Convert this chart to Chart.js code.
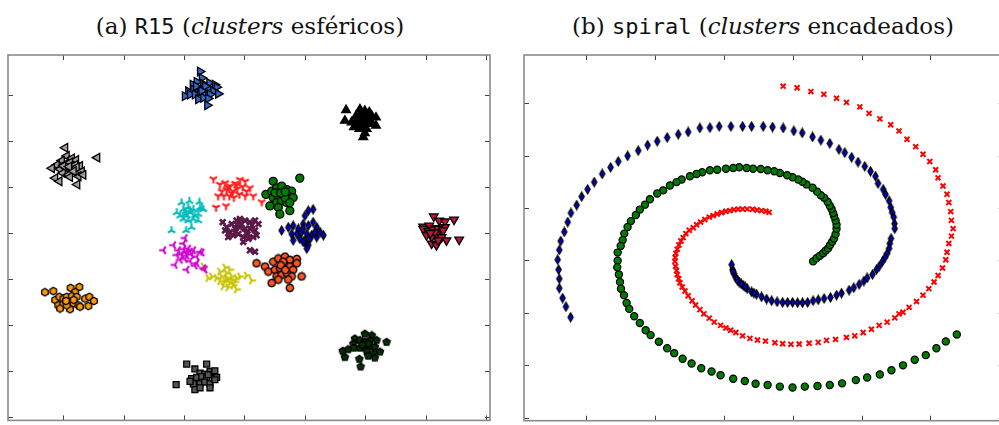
<!DOCTYPE html>
<html>
<head>
<meta charset="utf-8">
<script src="https://cdn.jsdelivr.net/npm/chart.js@4.4.1/dist/chart.umd.min.js"></script>
<style>
  html, body { margin: 0; padding: 0; background: #fff; overflow: hidden; }
  body { width: 999px; height: 425px; position: relative; }
  .title { position: absolute; top: 12px; width: 500px; text-align: center;
           font-family: "DejaVu Serif", "Liberation Serif", serif; font-size: 23px;
           line-height: 28px; color: #111; white-space: nowrap; }
  .title .tt { font-family: "DejaVu Sans Mono", "Liberation Mono", monospace; font-size: 22px; }
  #ta { left: 0; }
  #tb { left: 513px; }
  canvas { position: absolute; top: 45px; }
  #r15 { left: 0; }
  #spiral { left: 500px; }
</style>
</head>
<body>
<div class="title" id="ta">(a) <span class="tt">R15</span> (<i>clusters</i> esféricos)</div>
<div class="title" id="tb">(b) <span class="tt">spiral</span> (<i>clusters</i> encadeados)</div>
<canvas id="r15" width="500" height="382"></canvas>
<canvas id="spiral" width="510" height="382"></canvas>
<script>
// ---- R15 clusters, [x, y] ----
var r15BlueRight = [[8.53,17.04],[8.59,16.76],[8.42,16.59],[8.29,16.47],[8.64,16.50],[8.84,16.54],[9.02,16.47],[9.08,16.36],[8.14,16.18],[8.31,16.26],[8.47,16.33],[8.64,16.26],[8.80,16.33],[8.97,16.18],[8.03,15.97],[8.20,16.04],[8.36,16.04],[8.53,16.12],[8.69,16.04],[8.86,16.04],[9.13,16.07],[8.47,15.83],[8.64,15.90],[8.80,15.87],[8.77,15.57],[8.40,16.40],[8.70,16.40],[8.58,16.20]];
var r15BlackUp = [[13.36,15.36],[13.32,14.90],[13.54,14.83],[13.69,15.11],[13.82,15.40],[13.98,15.33],[14.13,15.26],[14.21,15.11],[14.35,15.04],[13.73,14.97],[13.87,15.11],[14.04,15.01],[14.17,14.90],[13.82,14.76],[13.98,14.79],[14.13,14.76],[13.62,14.62],[13.80,14.54],[14.35,14.69],[14.04,14.54],[13.98,14.36],[13.93,14.19],[13.85,15.22],[14.06,15.16],[13.71,14.76],[13.95,14.95],[14.10,14.88],[13.90,14.65]];
var r15GrayLeft = [[4.07,13.72],[4.12,13.36],[4.29,13.26],[4.43,13.19],[3.96,13.16],[3.79,12.97],[4.07,13.01],[4.23,13.08],[4.40,12.97],[4.56,12.93],[3.63,12.83],[3.90,12.79],[4.12,12.83],[4.29,12.76],[4.45,12.87],[4.62,12.69],[3.99,12.62],[4.18,12.54],[4.51,12.48],[4.67,12.54],[3.74,12.40],[3.88,12.26],[4.23,12.45],[4.47,12.12],[5.13,13.29],[4.01,12.93],[4.20,12.90],[4.35,12.70]];
var r15RedTri = [[8.97,12.36],[9.19,12.12],[9.36,12.19],[9.52,12.05],[9.69,12.16],[9.85,12.33],[10.02,12.26],[10.18,11.97],[9.25,11.83],[9.41,11.90],[9.61,11.83],[9.76,11.93],[9.94,12.02],[10.07,11.83],[9.13,11.62],[9.32,11.62],[9.50,11.62],[9.65,11.55],[9.83,11.69],[10.02,11.62],[10.29,11.62],[9.06,11.12],[9.39,11.19],[10.57,11.36],[9.58,11.73],[9.75,12.10],[9.45,12.00]];
var r15GreenDot = [[10.95,12.26],[11.83,12.40],[10.71,11.69],[10.90,11.83],[11.06,11.97],[11.23,12.05],[11.40,11.90],[11.56,11.83],[10.95,11.55],[11.12,11.62],[11.28,11.69],[11.45,11.62],[11.61,11.55],[11.06,11.33],[11.23,11.40],[11.40,11.33],[10.84,11.19],[11.12,11.12],[11.50,10.98],[11.17,10.83],[11.34,11.55],[11.01,11.76],[11.50,11.33],[11.20,11.75],[11.35,11.80]];
var r15CyanTri = [[7.92,11.33],[8.18,11.40],[8.51,11.36],[7.76,10.90],[7.98,11.04],[8.14,11.12],[8.31,11.04],[8.53,11.12],[8.64,11.04],[7.87,10.76],[8.03,10.83],[8.20,10.90],[8.36,10.76],[8.47,10.83],[7.98,10.62],[8.14,10.55],[8.31,10.62],[8.47,10.55],[8.25,10.26],[8.07,10.12],[7.59,10.12],[8.59,11.07],[8.09,10.76],[8.20,11.00],[8.05,10.95]];
var r15PurpleX = [[9.28,10.48],[9.41,10.26],[9.58,10.40],[9.74,10.55],[9.85,10.62],[10.02,10.55],[10.18,10.48],[10.35,10.55],[10.46,10.40],[9.36,10.12],[9.52,10.05],[9.69,10.19],[9.85,10.26],[10.02,10.19],[10.18,10.19],[10.35,10.12],[10.40,9.91],[9.46,9.83],[9.63,9.91],[9.80,9.97],[9.96,9.83],[10.13,9.76],[10.29,9.83],[9.96,9.62],[10.18,9.26],[10.35,9.19],[9.76,10.36],[10.07,10.02],[9.90,10.40],[10.25,10.35],[10.10,9.95],[9.70,10.05]];
var r15BlueDiamond = [[12.11,10.98],[12.27,11.04],[12.00,10.76],[11.23,10.12],[11.45,10.26],[11.61,10.33],[11.78,10.19],[11.94,10.40],[12.11,10.33],[12.27,10.48],[12.39,10.26],[12.50,10.05],[12.61,9.91],[11.56,9.97],[11.73,9.97],[11.89,10.05],[12.06,9.97],[12.22,9.91],[12.39,9.83],[11.61,9.69],[11.83,9.76],[12.00,9.69],[12.17,9.76],[12.06,9.48],[11.94,10.19],[12.33,10.05],[11.94,9.62],[12.11,9.48],[12.06,9.33]];
var r15CrimsonDown = [[16.26,10.73],[16.44,10.55],[16.63,10.51],[16.93,10.59],[15.91,10.29],[16.11,10.33],[16.30,10.22],[16.46,10.19],[16.63,10.26],[15.91,10.19],[16.08,10.09],[16.24,10.15],[16.41,10.19],[16.57,10.12],[16.02,9.91],[16.19,9.83],[16.35,9.95],[16.52,9.83],[16.68,9.69],[16.19,9.55],[16.35,9.48],[16.41,9.69],[17.10,9.72],[16.30,10.05],[16.15,10.00]];
var r15MagentaTri = [[8.03,9.79],[7.98,9.55],[7.65,9.48],[7.32,9.26],[7.81,9.26],[7.98,9.31],[8.14,9.33],[8.31,9.26],[8.53,9.19],[8.59,9.16],[7.76,9.05],[7.92,9.07],[8.09,9.02],[8.25,9.07],[8.42,8.98],[7.87,8.84],[8.03,8.88],[8.20,8.79],[8.42,8.69],[7.70,8.62],[8.09,8.41],[8.36,8.59],[8.64,8.48],[8.69,8.41],[8.05,9.15],[8.20,9.20]];
var r15OrangeRed = [[10.40,8.69],[10.68,8.55],[10.95,8.76],[11.12,8.90],[11.34,8.98],[11.50,8.84],[11.73,8.88],[10.79,8.33],[11.01,8.41],[11.17,8.48],[11.34,8.62],[11.50,8.55],[11.61,8.41],[11.06,8.12],[11.23,8.19],[11.40,8.26],[11.56,8.12],[11.45,7.98],[11.12,7.98],[10.90,7.83],[11.50,7.62],[11.89,8.12],[11.28,8.76],[11.73,8.69],[11.20,8.60],[11.35,8.40]];
var r15YellowTri = [[9.36,8.51],[9.52,8.41],[9.41,8.26],[9.19,8.33],[8.92,8.12],[9.08,8.05],[9.25,8.12],[9.41,8.05],[9.58,8.12],[9.74,8.05],[9.85,8.12],[10.07,8.16],[10.24,7.94],[9.19,7.91],[9.36,7.91],[9.52,7.83],[9.69,7.88],[9.30,7.69],[9.46,7.65],[9.63,7.73],[9.74,7.55],[8.80,8.05],[8.64,8.55],[9.45,8.00],[9.60,7.95]];
var r15Orange = [[3.40,7.43],[3.68,7.48],[4.25,7.62],[4.54,7.66],[4.40,7.43],[3.74,7.09],[3.88,7.23],[4.01,7.15],[4.12,7.23],[4.29,7.26],[4.45,7.23],[4.73,7.15],[4.87,7.23],[5.02,7.05],[3.84,6.86],[4.01,6.91],[4.18,7.01],[4.34,6.95],[4.51,6.86],[3.90,6.72],[4.23,6.69],[4.56,6.80],[4.84,6.83],[4.12,6.86],[4.10,7.05],[4.35,7.10]];
var r15DarkGreen = [[13.98,5.62],[14.21,5.55],[13.65,5.41],[13.60,5.19],[13.82,5.34],[13.98,5.26],[14.15,5.34],[14.37,5.34],[14.70,5.26],[13.25,4.87],[13.43,4.94],[13.62,5.01],[13.82,5.01],[13.98,5.05],[14.15,5.09],[14.31,5.05],[14.48,4.84],[13.32,4.60],[14.04,4.87],[14.26,4.77],[14.31,4.58],[13.80,4.52],[13.84,4.19],[14.09,4.66],[14.10,5.20],[13.90,5.15]];
var r15GraySquare = [[8.09,4.30],[8.75,4.30],[8.36,4.09],[8.53,3.91],[8.69,3.87],[8.86,3.98],[9.02,4.01],[8.25,3.67],[8.42,3.72],[8.59,3.76],[8.75,3.70],[9.00,3.67],[9.08,3.72],[8.31,3.44],[8.53,3.44],[8.69,3.52],[8.86,3.44],[9.02,3.62],[8.36,3.19],[8.53,3.27],[8.86,3.27],[7.74,3.41],[8.20,3.55],[8.80,3.84]];

// ---- spiral arms ----
var spiralBlue = [[3.91,9.59],[3.57,10.59],[3.33,11.41],[3.09,12.35],[3.09,13.25],[3.04,14.13],[2.97,15.07],[3.09,16.0],[3.19,16.85],[3.45,17.72],[3.70,18.66],[3.93,19.53],[4.35,20.28],[4.71,21.09],[5.14,21.78],[5.62,22.47],[6.20,23.25],[6.81,23.88],[7.36,24.44],[8.04,24.97],[8.81,25.47],[9.49,26.0],[10.19,26.37],[10.91,26.72],[11.71,27.03],[12.43,27.25],[13.28,27.63],[14.01,27.66],[14.68,27.78],[15.53,27.78],[16.38,27.78],[17.03,27.78],[17.87,27.78],[18.55,27.72],[19.32,27.63],[20.09,27.35],[20.70,27.16],[21.45,26.78],[22.05,26.47],[22.70,26.16],[23.36,25.59],[23.79,25.28],[24.28,24.84],[24.75,24.38],[25.24,23.97],[25.65,23.50],[26.01,23.03],[26.20,22.34],[26.57,21.78],[26.74,21.31],[27.0,20.69],[27.12,20.06],[27.22,19.59],[27.34,19.13],[27.39,18.50],[27.41,18.03],[27.14,17.09],[27.05,16.62],[27.0,16.15],[26.86,15.68],[26.71,15.31],[26.52,14.91],[26.28,14.44],[26.09,14.13],[25.80,13.66],[25.41,13.34],[25.17,13.03],[24.83,12.72],[24.44,12.40],[24.10,12.16],[23.55,11.88],[23.19,11.69],[22.75,11.47],[22.29,11.37],[21.86,11.25],[21.49,11.16],[21.09,11.0],[20.72,10.97],[20.36,10.97],[20.0,11.0],[19.64,11.0],[19.28,11.0],[18.88,11.06],[18.48,11.16],[18.12,11.32],[17.75,11.53],[17.39,11.78],[17.03,12.0],[16.71,12.31],[16.42,12.63],[16.13,12.94],[15.89,13.34],[15.75,13.75],[15.65,14.13],[15.58,14.60],[15.69,13.94],[16.0,13.13],[16.28,12.77],[16.57,12.47],[17.20,11.89]];
var spiralGreen = [[21.49,14.91],[21.74,15.22],[21.98,15.44],[22.22,15.68],[22.41,15.94],[22.58,16.15],[22.72,16.47],[22.87,16.78],[23.01,17.09],[23.12,17.50],[23.19,18.03],[23.19,18.40],[23.12,18.82],[23.01,19.22],[22.94,19.53],[22.83,19.90],[22.70,20.22],[22.54,20.60],[22.29,20.97],[22.05,21.22],[21.78,21.56],[21.45,21.94],[21.01,22.25],[20.72,22.5],[20.41,22.72],[20.0,22.94],[19.61,23.13],[19.08,23.34],[18.67,23.50],[18.19,23.60],[17.70,23.72],[17.14,23.75],[16.67,23.81],[16.13,23.88],[15.70,23.81],[15.17,23.75],[14.54,23.65],[14.01,23.60],[13.45,23.41],[13.04,23.25],[12.56,23.03],[11.96,22.72],[11.59,22.47],[11.11,22.15],[10.62,21.68],[10.19,21.38],[9.66,20.84],[9.30,20.32],[8.93,19.85],[8.64,19.34],[8.28,18.75],[8.04,18.19],[7.80,17.56],[7.68,16.94],[7.54,16.38],[7.32,15.75],[7.32,14.97],[7.29,14.34],[7.41,13.66],[7.49,12.94],[7.56,12.31],[7.78,11.69],[7.97,10.94],[8.16,10.38],[8.52,9.68],[8.93,9.03],[9.35,8.34],[9.71,7.88],[10.31,7.25],[10.91,6.63],[11.42,6.16],[12.03,5.63],[12.68,5.18],[13.38,4.72],[14.13,4.41],[14.78,4.06],[15.70,3.72],[16.54,3.50],[17.32,3.25],[18.19,3.12],[19.08,2.97],[20.0,2.88],[20.89,2.97],[21.81,3.03],[22.70,3.12],[23.59,3.28],[24.59,3.59],[25.41,3.84],[26.33,4.13],[27.17,4.53],[28.01,5.0],[28.86,5.53],[29.66,5.97],[30.43,6.63],[31.11,7.28],[31.91,7.94]];
var spiralRed = [[18.30,19.59],[18.07,19.69],[17.75,19.75],[17.43,19.81],[17.10,19.88],[16.71,19.90],[16.38,19.90],[16.06,19.88],[15.75,19.85],[15.46,19.75],[15.17,19.69],[14.86,19.57],[14.54,19.43],[14.25,19.28],[13.96,19.13],[13.64,18.91],[13.33,18.66],[13.04,18.40],[12.80,18.12],[12.51,17.88],[12.27,17.56],[12.07,17.18],[11.91,16.85],[11.76,16.47],[11.64,16.06],[11.54,15.68],[11.49,15.28],[11.47,14.91],[11.52,14.44],[11.59,14.03],[11.64,13.66],[11.74,13.25],[11.83,12.87],[12.0,12.47],[12.20,12.09],[12.43,11.63],[12.72,11.16],[12.97,10.75],[13.28,10.31],[13.57,9.91],[13.96,9.50],[14.32,9.12],[14.78,8.81],[15.17,8.56],[15.51,8.34],[15.89,8.13],[16.38,7.81],[16.91,7.57],[17.46,7.41],[18.04,7.31],[18.72,7.15],[19.28,7.06],[19.88,7.0],[20.48,7.03],[21.20,7.10],[21.86,7.19],[22.46,7.38],[23.12,7.47],[23.91,7.66],[24.51,7.81],[25.12,8.13],[25.72,8.44],[26.28,8.81],[26.86,9.12],[27.41,9.53],[27.72,9.91],[28.01,10.06],[28.45,10.53],[28.99,11.09],[29.46,11.69],[29.88,12.31],[30.26,12.94],[30.55,13.57],[30.87,14.28],[31.11,15.07],[31.20,15.78],[31.33,16.62],[31.52,17.32],[31.64,18.03],[31.52,18.82],[31.47,19.66],[31.33,20.53],[31.20,21.31],[30.91,22.10],[30.55,22.88],[30.38,23.65],[29.95,24.44],[29.46,25.13],[28.93,25.85],[28.30,26.56],[27.72,27.35],[27.12,27.94],[26.33,28.5],[25.55,29.03],[24.88,29.65],[23.91,30.07],[23.19,30.47],[22.27,30.84],[21.33,31.10],[20.33,31.47],[19.32,31.62]];

// ---- tick positions (no labels are shown) ----
var r15XTicks = [4, 6, 8, 10, 12, 14, 16, 18];
var r15YTicks = [2, 4, 6, 8, 10, 12, 14, 16];
var spiralXTicks = [5, 10, 15, 20, 25, 30, 35];
var spiralYTicks = [0, 5, 10, 15, 20, 25, 30];

function toXY(list) {
    return list.map(function (p) { return { x: p[0], y: p[1] }; });
}

// small canvas markers for the matplotlib-like symbols Chart.js lacks
function makeMarker(kind, color, size) {
    var c = document.createElement('canvas');
    c.width = size;
    c.height = size;
    var g = c.getContext('2d');
    g.translate(size / 2, size / 2);
    var r = size / 2 - 1.2;
    var arms = { triDown: [90, 210, 330], triUp: [270, 30, 150], triLeft: [180, 300, 60], triRight: [0, 120, 240] };
    if (arms[kind]) {
        g.strokeStyle = color;
        g.lineWidth = 2.1;
        g.beginPath();
        arms[kind].forEach(function (a) {
            var t = a * Math.PI / 180;
            g.moveTo(0, 0);
            g.lineTo(r * Math.cos(t), r * Math.sin(t));
        });
        g.stroke();
        return c;
    }
    g.beginPath();
    if (kind === 'thinDiamond') {
        g.moveTo(0, -r); g.lineTo(r * 0.6, 0); g.lineTo(0, r); g.lineTo(-r * 0.6, 0);
    } else {
        var n = kind === 'pentagon' ? 5 : kind === 'hexagon' ? 6 : 8;
        for (var i = 0; i < n; i++) {
            var t = -Math.PI / 2 + i * 2 * Math.PI / n;
            if (i === 0) g.moveTo(r * Math.cos(t), r * Math.sin(t));
            else g.lineTo(r * Math.cos(t), r * Math.sin(t));
        }
    }
    g.closePath();
    g.fillStyle = color;
    g.fill();
    g.strokeStyle = '#000';
    g.lineWidth = 1.3;
    g.stroke();
    return c;
}

var framePlugin = {
    id: 'frame',
    afterDatasetsDraw: function (chart, args, opts) {
        var ctx = chart.ctx, a = chart.chartArea, sx = chart.scales.x, sy = chart.scales.y;
        ctx.save();
        ctx.strokeStyle = '#444';
        ctx.lineWidth = 1;
        ctx.beginPath();
        opts.xTicks.forEach(function (v) {
            var p = Math.round(sx.getPixelForValue(v)) + 0.5;
            ctx.moveTo(p, a.top); ctx.lineTo(p, a.top + 5);
            ctx.moveTo(p, a.bottom); ctx.lineTo(p, a.bottom - 5);
        });
        opts.yTicks.forEach(function (v) {
            var p = Math.round(sy.getPixelForValue(v)) + 0.5;
            ctx.moveTo(a.left, p); ctx.lineTo(a.left + 5, p);
            ctx.moveTo(a.right, p); ctx.lineTo(a.right - 5, p);
        });
        ctx.stroke();
        ctx.strokeStyle = '#8a8a8a';
        ctx.lineWidth = 1.6;
        ctx.strokeRect(a.left, a.top, a.right - a.left, a.bottom - a.top);
        ctx.restore();
    }
};

function ds(list, style) {
    var d = { data: toXY(list), pointBorderColor: '#000', pointBorderWidth: 1.3, pointRadius: 5 };
    for (var k in style) d[k] = style[k];
    return d;
}

function baseOptions(xmin, xmax, ymin, ymax, pad, xTicks, yTicks) {
    return {
        responsive: false,
        animation: false,
        events: [],
        layout: { padding: pad },
        scales: {
            x: { type: 'linear', min: xmin, max: xmax, display: false },
            y: { type: 'linear', min: ymin, max: ymax, display: false }
        },
        plugins: {
            legend: { display: false },
            tooltip: { enabled: false },
            frame: { xTicks: xTicks, yTicks: yTicks }
        }
    };
}

new Chart(document.getElementById('r15'), {
    type: 'scatter',
    data: {
        datasets: [
            ds(r15BlueRight, { pointStyle: 'triangle', rotation: 90, pointBackgroundColor: '#3366cc' }),
            ds(r15BlackUp, { pointStyle: 'triangle', pointBackgroundColor: '#000' }),
            ds(r15GrayLeft, { pointStyle: 'triangle', rotation: 270, pointBackgroundColor: '#a39a9e' }),
            ds(r15RedTri, { pointStyle: makeMarker('triDown', '#ff1a1a', 11) }),
            ds(r15GreenDot, { pointStyle: 'circle', pointRadius: 4, pointBackgroundColor: '#007a00' }),
            ds(r15CyanTri, { pointStyle: makeMarker('triUp', '#00bcbc', 11) }),
            ds(r15PurpleX, { pointStyle: 'crossRot', pointRadius: 4, pointBorderWidth: 2.6, pointBorderColor: '#5a1848' }),
            ds(r15BlueDiamond, { pointStyle: makeMarker('thinDiamond', '#0000e0', 11) }),
            ds(r15CrimsonDown, { pointStyle: 'triangle', rotation: 180, pointBackgroundColor: '#c0143c' }),
            ds(r15MagentaTri, { pointStyle: makeMarker('triLeft', '#cc00cc', 11) }),
            ds(r15OrangeRed, { pointStyle: makeMarker('octagon', '#ff5722', 10) }),
            ds(r15YellowTri, { pointStyle: makeMarker('triRight', '#c8c400', 11) }),
            ds(r15Orange, { pointStyle: makeMarker('hexagon', '#ff9a00', 10) }),
            ds(r15DarkGreen, { pointStyle: makeMarker('pentagon', '#003300', 10) }),
            ds(r15GraySquare, { pointStyle: 'rect', pointRadius: 4.2, pointBackgroundColor: '#555' })
        ]
    },
    options: baseOptions(2.18, 18.12, 1.85, 17.76, { left: 8, top: 10, right: 10, bottom: 0 }, r15XTicks, r15YTicks),
    plugins: [framePlugin]
});

new Chart(document.getElementById('spiral'), {
    type: 'scatter',
    data: {
        datasets: [
            ds(spiralBlue, { pointStyle: makeMarker('thinDiamond', '#0000cc', 11) }),
            ds(spiralGreen, { pointStyle: 'circle', pointRadius: 3.6, pointBorderWidth: 1.2, pointBackgroundColor: '#007a00' }),
            ds(spiralRed, { pointStyle: 'crossRot', pointRadius: 3.5, pointBorderWidth: 2, pointBorderColor: '#ff0000' })
        ]
    },
    options: baseOptions(0.53, 35.31, -0.28, 34.59, { left: 24, top: 10, right: 6, bottom: 0 }, spiralXTicks, spiralYTicks),
    plugins: [framePlugin]
});
</script>
</body>
</html>
